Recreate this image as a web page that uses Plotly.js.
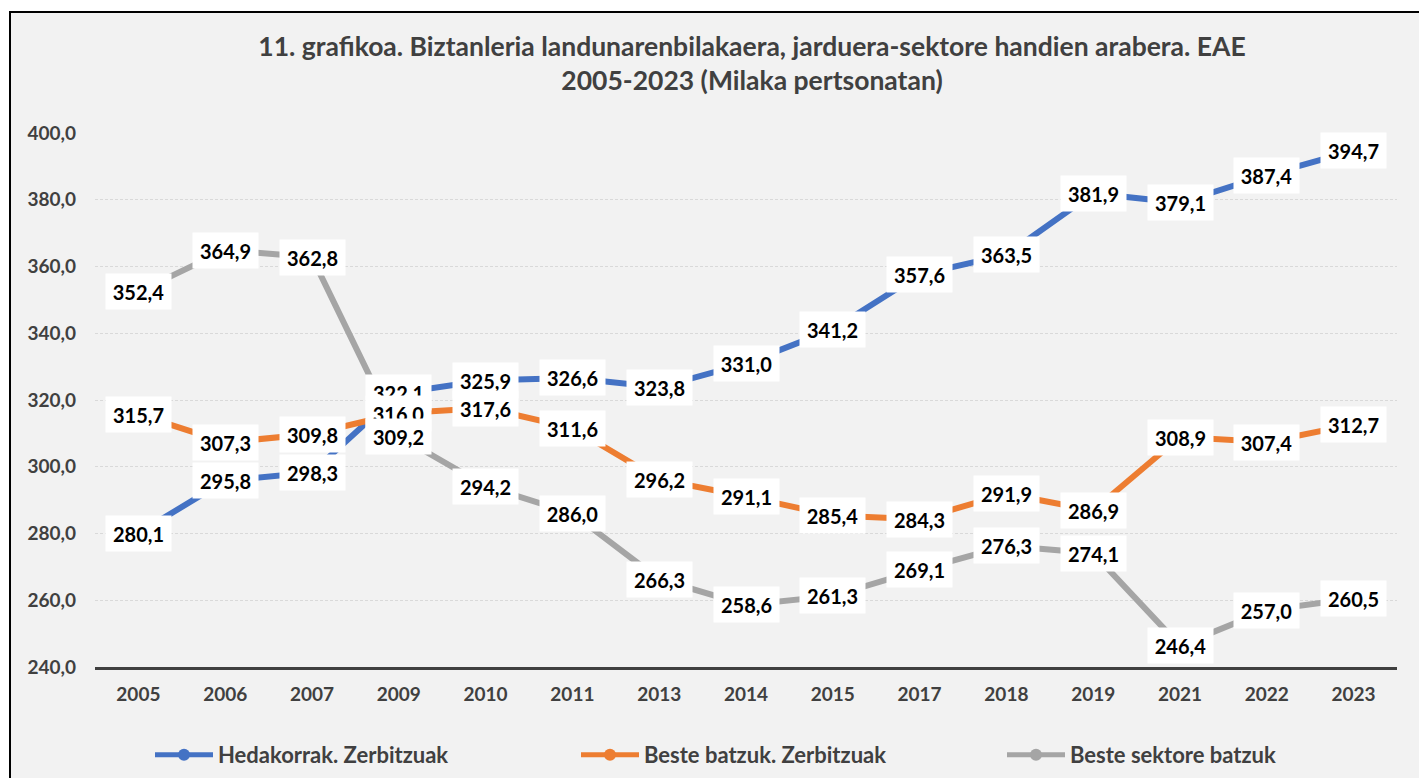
<!DOCTYPE html>
<html>
<head>
<meta charset="utf-8">
<script src="https://cdn.plot.ly/plotly-3.0.1.min.js"></script>
<style>
html, body { margin:0; padding:0; background:#ffffff; overflow:hidden; width:1419px; height:778px; }
#frame { position:absolute; left:9px; top:11px; width:1500px; height:900px; background:#f2f2f2; border:2px solid #000; box-sizing:border-box; }
#chart { position:absolute; left:0; top:0; width:1419px; height:778px; }
</style>
</head>
<body>
<div id="frame"></div>
<div id="chart"></div>
<script>
const years = ['2005','2006','2007','2009','2010','2011','2013','2014','2015','2017','2018','2019','2021','2022','2023'];
const hedakorrak = [280.1, 295.8, 298.3, 322.1, 325.9, 326.6, 323.8, 331.0, 341.2, 357.6, 363.5, 381.9, 379.1, 387.4, 394.7];
const besteZerbitzuak = [315.7, 307.3, 309.8, 316.0, 317.6, 311.6, 296.2, 291.1, 285.4, 284.3, 291.9, 286.9, 308.9, 307.4, 312.7];
const besteSektore = [352.4, 364.9, 362.8, 309.2, 294.2, 286.0, 266.3, 258.6, 261.3, 269.1, 276.3, 274.1, 246.4, 257.0, 260.5];
const seriesNames = ['Hedakorrak. Zerbitzuak', 'Beste batzuk. Zerbitzuak', 'Beste sektore batzuk'];
const seriesColors = ['#4472C4', '#ED7D31', '#A5A5A5'];
const seriesValues = [hedakorrak, besteZerbitzuak, besteSektore];

const FONT = 'Lato, "Open Sans", sans-serif';
const fmt = v => v.toFixed(1).replace('.', ',');

const traces = seriesValues.map((vals, i) => ({
  type: 'scatter',
  mode: 'lines+markers',
  name: seriesNames[i],
  x: years,
  y: vals,
  line: { color: seriesColors[i], width: 6 },
  marker: { color: seriesColors[i], size: 26 },
  cliponaxis: false,
  hoverinfo: 'skip'
}));

const annotations = [];
seriesValues.forEach((vals, i) => {
  vals.forEach((v, j) => {
    annotations.push({
      x: j, y: v, xref: 'x', yref: 'y',
      text: '<b>' + fmt(v) + '</b>',
      showarrow: false,
      bgcolor: '#ffffff',
      width: 55, height: 25,
      borderpad: 5,
      align: 'center', valign: 'middle',
      font: { family: FONT, size: 20, color: '#000000' }
    });
  });
});

const layout = {
  width: 1419, height: 778,
  paper_bgcolor: 'rgba(0,0,0,0)',
  plot_bgcolor: 'rgba(0,0,0,0)',
  margin: { l: 95, r: 22, t: 133, b: 111 },
  separators: ',.',
  title: {
    text: '<b>11. grafikoa. Biztanleria landunarenbilakaera, jarduera-sektore handien arabera. EAE<br>2005-2023 (Milaka pertsonatan)</b>',
    font: { family: FONT, size: 26.5, color: '#404040' },
    xref: 'container', x: 752/1419, xanchor: 'center',
    yref: 'container', y: 1 - 56/778, yanchor: 'middle'
  },
  xaxis: {
    type: 'category',
    range: [-0.5, 14.5],
    showgrid: false,
    showline: true, linecolor: '#404040', linewidth: 3,
    ticks: '',
    ticklabelstandoff: 8,
    tickfont: { family: FONT, size: 19, color: '#404040', weight: 'bold' },
    fixedrange: true
  },
  yaxis: {
    range: [240, 400],
    tickvals: [240, 260, 280, 300, 320, 340, 360, 380, 400],
    tickformat: '.1f',
    showgrid: true, gridcolor: '#d9d9d9', gridwidth: 1, griddash: '3px,2px',
    zeroline: false, showline: false, ticks: '',
    ticklabelstandoff: 18,
    tickfont: { family: FONT, size: 19, color: '#404040', weight: 'bold' },
    fixedrange: true
  },
  showlegend: true,
  legend: {
    orientation: 'h',
    xref: 'container', x: 150/1419, xanchor: 'left',
    yref: 'container', y: 1 - 755/778, yanchor: 'middle',
    bgcolor: 'rgba(0,0,0,0)',
    itemsizing: 'constant',
    itemwidth: 58,
    entrywidth: 353, entrywidthmode: 'pixels',
    font: { family: FONT, size: 22, color: '#404040', weight: 'bold' }
  },
  annotations: annotations
};

Plotly.newPlot('chart', traces, layout, { displayModeBar: false, staticPlot: true });
</script>
</body>
</html>
